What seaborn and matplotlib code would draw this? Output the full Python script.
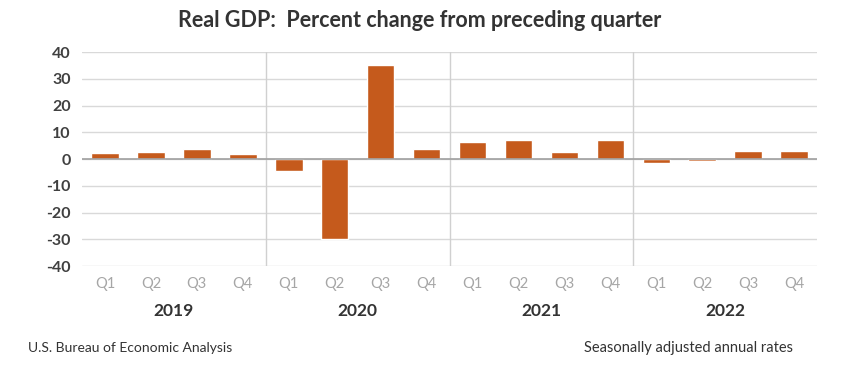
import pandas as pd
import seaborn as sns
from matplotlib import pyplot as plt

# data
years = ["2019", "2020", "2021", "2022"]
quarters = ["Q1", "Q2", "Q3", "Q4"]
gdp_change = [2.2, 2.7, 3.6, 1.8,
              -4.6, -29.9, 35.3, 3.9,
              6.3, 7.0, 2.7, 7.0,
              -1.6, -0.6, 3.2, 2.9]
y_ticks = [40, 30, 20, 10, 0, -10, -20, -30, -40]

df = pd.DataFrame({
    "period": [f"{y} {q}" for y in years for q in quarters],
    "quarter": [q for y in years for q in quarters],
    "change": gdp_change,
})

sns.set_style("white")
plt.rcParams["font.family"] = ["Lato", "DejaVu Sans"]

fig = plt.figure(figsize=(8.45, 3.67), dpi=100)
ax = fig.add_axes([0.097, 0.275, 0.870, 0.583])

sns.barplot(data=df, x="period", y="change", color="#C55A1C",
            saturation=1, width=0.6, ax=ax, zorder=3)

ax.set_ylim(-40, 40)
ax.set_yticks(y_ticks)
ax.set_yticklabels([str(t) for t in y_ticks], fontsize=11.5,
                   fontweight="bold", color="#404040")
ax.set_xlim(-0.5, len(df) - 0.5)
ax.set_xticks(range(len(df)))
ax.set_xticklabels(df["quarter"], fontsize=10.5, color="#a6a6a6")
ax.tick_params(axis="both", length=0, pad=8)
ax.set_xlabel("")
ax.set_ylabel("")

for t in y_ticks:
    ax.axhline(t, color="#d9d9d9", lw=1, zorder=1)
ax.axhline(0, color="#a0a0a0", lw=1.2, zorder=4)

for i in range(1, len(years)):
    ax.axvline(i * 4 - 0.5, color="#d0d0d0", lw=1, zorder=1)

for s in ax.spines.values():
    s.set_visible(False)

for i, y in enumerate(years):
    ax.text(i * 4 + 1.5, -0.21, y, transform=ax.get_xaxis_transform(),
            ha="center", va="center", fontsize=12.5, fontweight="bold",
            color="#333333")

fig.text(0.497, 0.945, "Real GDP:  Percent change from preceding quarter",
         ha="center", va="center", fontsize=15.5, fontweight="bold",
         color="#333333")
fig.text(0.033, 0.052, "U.S. Bureau of Economic Analysis", ha="left",
         va="center", fontsize=10, color="#333333")
fig.text(0.938, 0.052, "Seasonally adjusted annual rates", ha="right",
         va="center", fontsize=10.5, color="#333333")

fig.savefig("out.png", dpi=100)
